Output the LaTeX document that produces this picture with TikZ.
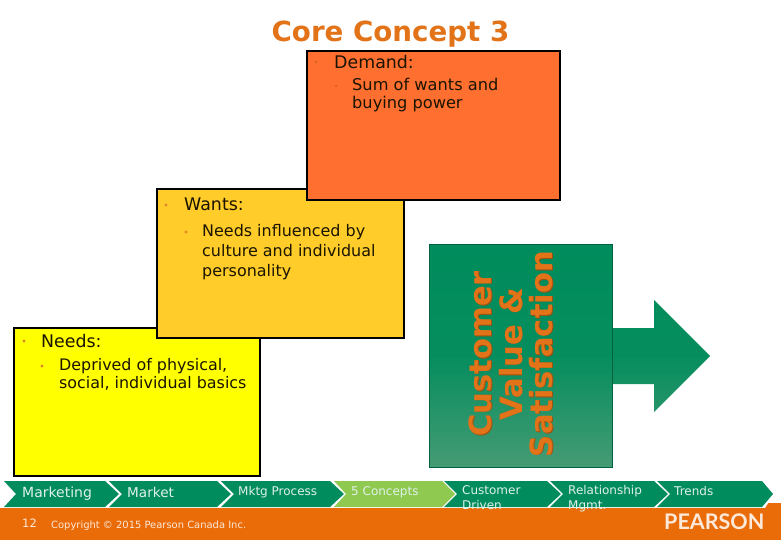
\documentclass[tikz,border=0pt]{standalone}
\usepackage{fontspec}
\setmainfont{DejaVu Sans}
\newfontfamily\pearsonfont{Lato}
\definecolor{pgreen}{HTML}{008C5C}
\definecolor{pgreenb}{HTML}{459B74}
\definecolor{plight}{HTML}{8FC94F}
\definecolor{porange}{HTML}{EA6C08}
\definecolor{ptitle}{HTML}{E27318}
\definecolor{demandfill}{HTML}{FF6F2F}
\definecolor{wantsfill}{HTML}{FFCC29}
\definecolor{needsfill}{RGB}{255,255,0}
\definecolor{bulletc}{HTML}{E0842A}
\definecolor{bodytext}{HTML}{1A1400}
\tikzset{
  x=1pt,y=-1pt,
  conceptbox/.style={draw=black,line width=2pt},
  chev/.style={fill=pgreen,draw=none},
  chevtext/.style={anchor=base west,inner sep=0pt,text=white!88!pgreen},
  head/.style={anchor=base west,inner sep=0pt,text=bodytext,font=\fontsize{17.4}{17.4}\selectfont},
  sub/.style={anchor=north west,inner sep=0pt,align=left,text=bodytext},
  bul/.style={circle,inner sep=0pt,minimum size=3.4pt,fill=bulletc},
}
\begin{document}
\begin{tikzpicture}
\useasboundingbox (0,0) rectangle (781,540);
\fill[white] (0,0) rectangle (781,540);
% footer band
\fill[porange] (0,505) -- (3,508) -- (762,508) -- (767,503) -- (781,503) -- (781,540) -- (0,540) -- cycle;
\fill[white] (0,481) rectangle (765,508);
\fill[white] (765,508) -- (774,494) -- (762,480) -- cycle;
% chevrons
\path[chev] (4,481) -- (105,481) -- (119,494) -- (105,507) -- (4,507) -- (16,494) -- cycle;
\path[chev] (109,481) -- (217,481) -- (231,494) -- (217,507) -- (109,507) -- (122,494) -- cycle;
\path[chev] (221,481) -- (330,481) -- (344,494) -- (330,507) -- (221,507) -- (234,494) -- cycle;
\path[chev,fill=plight] (334,481) -- (442,481) -- (455,494) -- (442,507) -- (334,507) -- (346,494) -- cycle;
\path[chev] (444,481) -- (547,481) -- (561,494) -- (547,507) -- (444,507) -- (457,494) -- cycle;
\path[chev] (550,481) -- (654,481) -- (668,494) -- (654,507) -- (550,507) -- (563,494) -- cycle;
\path[chev] (657,481) -- (762,481) -- (773,494) -- (762,507) -- (657,507) -- (670,494) -- cycle;
% title
\node[anchor=base,inner sep=0pt,text=ptitle,font=\bfseries\fontsize{27.7}{27.7}\selectfont] (title) at (390.5,42) {Core Concept 3};
% concept boxes
\node[conceptbox,fill=needsfill,anchor=north west,minimum width=246pt,minimum height=148pt,inner sep=0pt] (needs) at (13,326.5) {};
\node[conceptbox,fill=wantsfill,anchor=north west,minimum width=247pt,minimum height=148pt,inner sep=0pt] (wants) at (156,188.5) {};
\node[conceptbox,fill=demandfill,anchor=north west,minimum width=253pt,minimum height=148pt,inner sep=0pt] (demand) at (306,50.5) {};
% demand text
\node[bul,fill=demandfill!88!black] (b1) at (316,62) {};
\node[head] (t1) at (334,68.5) {Demand:};
\node[bul,fill=demandfill!88!black,minimum size=3pt] (b2) at (336,86) {};
\node[sub,font=\fontsize{16.2}{17.6}\selectfont] (t2) at (352,78) {Sum of wants and\\buying power};
% wants text
\node[bul] (b3) at (166,205) {};
\node[head] (t3) at (184,211) {Wants:};
\node[bul] (b4) at (186,232) {};
\node[sub,font=\fontsize{15.95}{20}\selectfont] (t4) at (202,224.5) {Needs influenced by\\culture and individual\\personality};
% needs text
\node[bul] (b5) at (24,341) {};
\node[head] (t5) at (41,347) {Needs:};
\node[bul] (b6) at (42,366) {};
\node[sub,font=\fontsize{15.9}{18}\selectfont] (t6) at (59,358.5) {Deprived of physical,\\social, individual basics};
% green block with arrow
\shade[top color=pgreen,bottom color=pgreenb,middle color=pgreen!92!pgreenb]
  (429,244) -- (612,244) -- (612,328) -- (654,328) -- (654,300) -- (710,356) -- (654,412) -- (654,384) -- (612,384) -- (612,467) -- (429,467) -- cycle;
\node[draw=pgreen!70!black,line width=0.6pt,anchor=north west,minimum width=183pt,minimum height=223pt,inner sep=0pt] (cvs) at (429,244) {};
\node[rotate=90,inner sep=0pt,align=center,text=black!30!ptitle,font=\bfseries\fontsize{30.6}{30.5}\selectfont] (cvtextshadow) at (511.6,354.4) {Customer\\Value \&\\Satisfaction};
\node[rotate=90,inner sep=0pt,align=center,text=ptitle,font=\bfseries\fontsize{30.6}{30.5}\selectfont] (cvtext) at (511,354) {Customer\\Value \&\\Satisfaction};
% chevron labels
\node[chevtext,font=\fontsize{14}{14}\selectfont] (c1) at (22,497.5) {Marketing};
\node[chevtext,font=\fontsize{13.6}{13.6}\selectfont] (c2) at (127,497.5) {Market};
\node[chevtext,font=\fontsize{12}{12}\selectfont] (c3) at (238,495.5) {Mktg Process};
\node[chevtext,font=\fontsize{12}{12}\selectfont] (c4) at (351,495.5) {5 Concepts};
\node[chevtext,align=left,anchor=north west,font=\fontsize{12}{15}\selectfont] (c5) at (462,485.5) {Customer\\Driven};
\node[chevtext,align=left,anchor=north west,font=\fontsize{12}{15}\selectfont] (c6) at (568,485.5) {Relationship\\Mgmt.};
\node[chevtext,font=\fontsize{12}{12}\selectfont] (c7) at (674,495.5) {Trends};
% footer text
\node[anchor=base west,inner sep=0pt,text=white!85!porange,font=\fontsize{11.5}{11.5}\selectfont] (pg) at (22,527) {12};
\node[anchor=base west,inner sep=0pt,text=white!85!porange,font=\fontsize{9.95}{9.95}\selectfont] (copy) at (51,528.5) {Copyright © 2015 Pearson Canada Inc.};
\node[anchor=base west,inner sep=0pt,text=white!85!porange,font=\pearsonfont\bfseries\fontsize{21.5}{21.5}\selectfont] (logo) at (664,529.5) {PEARSON};
\end{tikzpicture}
\end{document}
